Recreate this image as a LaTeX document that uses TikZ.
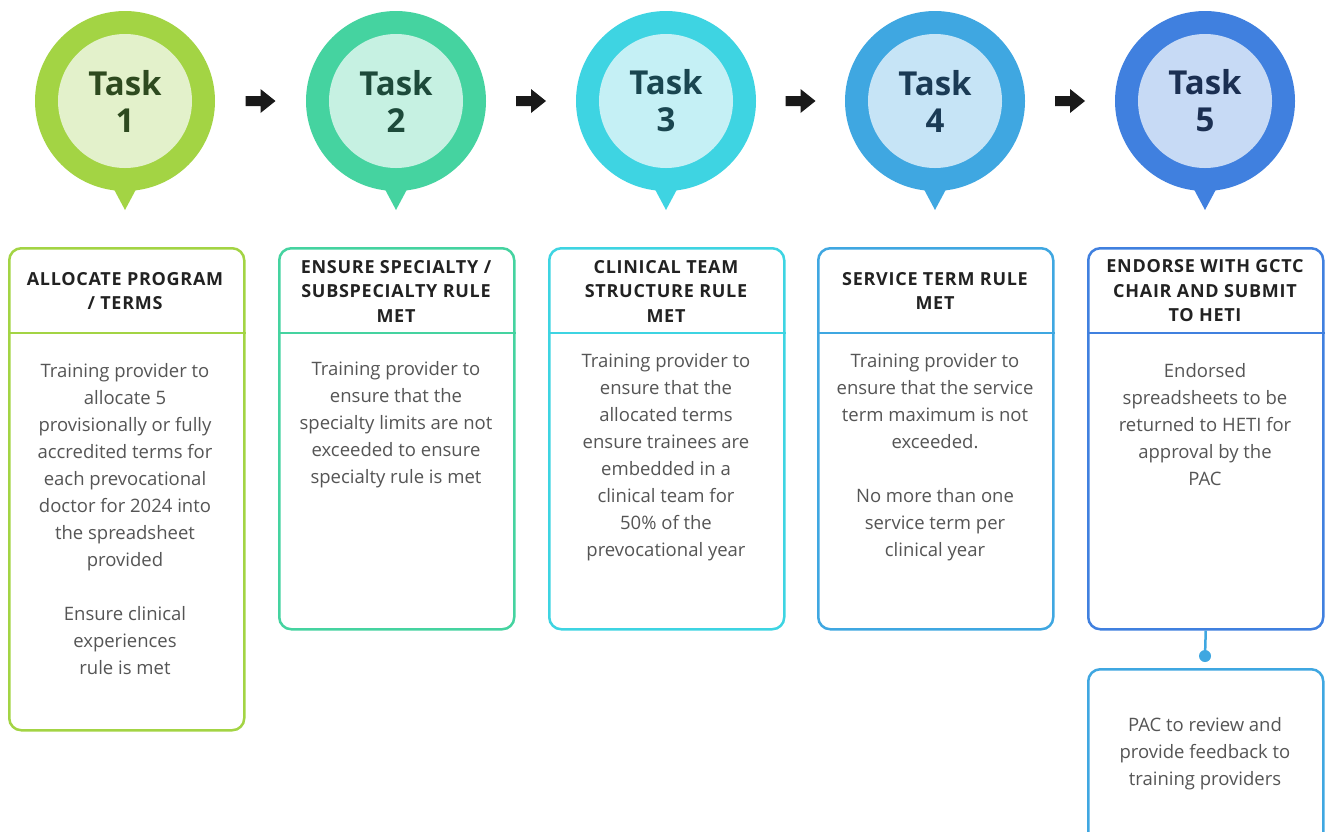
\documentclass[tikz,border=0pt]{standalone}
\usepackage{fontspec}
\setmainfont{Open Sans}
\usetikzlibrary{calc}

% task colours: ring, inner disc, label
\definecolor{ringA}{HTML}{A3D444}\definecolor{discA}{HTML}{E3F1CB}\definecolor{inkA}{HTML}{2E4A1F}
\definecolor{ringB}{HTML}{45D3A0}\definecolor{discB}{HTML}{C6F1E2}\definecolor{inkB}{HTML}{1D4A3A}
\definecolor{ringC}{HTML}{3ED4E2}\definecolor{discC}{HTML}{C5F0F5}\definecolor{inkC}{HTML}{1A4650}
\definecolor{ringD}{HTML}{3FA7E1}\definecolor{discD}{HTML}{C6E4F6}\definecolor{inkD}{HTML}{1B3B55}
\definecolor{ringE}{HTML}{4080DF}\definecolor{discE}{HTML}{C7DAF5}\definecolor{inkE}{HTML}{1B2F52}
\definecolor{bodygray}{HTML}{555555}
\definecolor{headink}{HTML}{222222}

\tikzset{
  ring/.style={circle, minimum size=180pt, inner sep=0pt},
  disc/.style={circle, minimum size=134pt, inner sep=0pt, align=center,
    font=\fontsize{33}{37}\selectfont\bfseries},
  card/.style={draw, line width=2.5pt, rounded corners=12pt, minimum width=235pt,
    anchor=north west, inner sep=0pt, fill=white},
  cardhead/.style={align=center, text=headink,
    font=\fontsize{18}{24.5}\selectfont\bfseries\addfontfeature{LetterSpace=4}},
  cardbody/.style={align=center, text=bodygray,
    font=\fontsize{18.5}{27}\selectfont},
}

\begin{document}
\begin{tikzpicture}[x=1pt,y=-1pt]
  \useasboundingbox (0,0) rectangle (1325,831);
  \clip (0,0) rectangle (1325,831);

  % pins with task numbers
  \foreach \i/\x/\c in {1/125/A,2/396/B,3/666/C,4/935/D,5/1205/E}{
    \fill[ring\c] (\x-16,180) -- (\x+16,180) -- (\x,210) -- cycle;
    \node[ring, fill=ring\c] (t\i) at (\x,101) {};
    \node[disc, fill=disc\c, text=ink\c] (d\i) at (t\i) {Task\\\i};
  }

  % arrows between pins
  \foreach \i/\j in {1/2,2/3,3/4,4/5}{
    \coordinate (a\i) at ($(t\i)!0.5!(t\j)$);
    \fill[black!90] ([shift={(-15,-5)}]a\i) -- ([shift={(0,-5)}]a\i)
      -- ([shift={(0,-12)}]a\i) -- ([shift={(15,0)}]a\i) -- ([shift={(0,12)}]a\i)
      -- ([shift={(0,5)}]a\i) -- ([shift={(-15,5)}]a\i) -- cycle;
  }

  % cards
  \node[card, draw=ringA, minimum height=482pt] (box1) at (8,247) {};
  \node[card, draw=ringB, minimum height=381pt] (box2) at (278,247) {};
  \node[card, draw=ringC, minimum height=381pt] (box3) at (548,247) {};
  \node[card, draw=ringD, minimum height=381pt] (box4) at (817,247) {};
  \node[card, draw=ringE, minimum height=381pt] (box5) at (1087,247) {};
  \node[card, draw=ringD, minimum height=200pt] (box6) at (1087,668) {};

  % header rules
  \foreach \i/\c in {1/A,2/B,3/C,4/D,5/E}
    \draw[ring\c, line width=2.5pt] (box\i.west |- 0,333) -- (box\i.east |- 0,333);

  % headers
  \node[cardhead] (h1) at (125,291) {ALLOCATE PROGRAM\\/ TERMS};
  \node[cardhead] (h2) at (396,291) {ENSURE SPECIALTY /\\SUBSPECIALTY RULE\\MET};
  \node[cardhead] (h3) at (666,291) {CLINICAL TEAM\\STRUCTURE RULE\\MET};
  \node[cardhead] (h4) at (935,291) {SERVICE TERM RULE\\MET};
  \node[cardhead] (h5) at (1205,291) {ENDORSE WITH GCTC\\CHAIR AND SUBMIT\\TO HETI};

  % body texts
  \node[cardbody] (b1) at (125,519) {Training provider to\\allocate 5\\provisionally or fully\\accredited terms for\\each prevocational\\doctor for 2024 into\\the spreadsheet\\provided\\[27pt]Ensure clinical\\experiences\\rule is met};
  \node[cardbody] (b2) at (396,425) {Training provider to\\ensure that the\\specialty limits are not\\exceeded to ensure\\specialty rule is met};
  \node[cardbody] (b3) at (666,457) {Training provider to\\ensure that the\\allocated terms\\ensure trainees are\\embedded in a\\clinical team for\\50\% of the\\prevocational year};
  \node[cardbody] (b4) at (935,457) {Training provider to\\ensure that the service\\term maximum is not\\exceeded.\\[27pt]No more than one\\service term per\\clinical year};
  \node[cardbody] (b5) at (1205,425) {Endorsed\\spreadsheets to be\\returned to HETI for\\approval by the\\PAC};
  \node[cardbody] (b6) at (1205,754) {PAC to review and\\provide feedback to\\training providers};

  % link to review card
  \coordinate (dot) at (1205,656);
  \draw[ringD, line width=2.5pt] (box5.south) -- (dot);
  \fill[ringD] (dot) circle (6);
\end{tikzpicture}
\end{document}
